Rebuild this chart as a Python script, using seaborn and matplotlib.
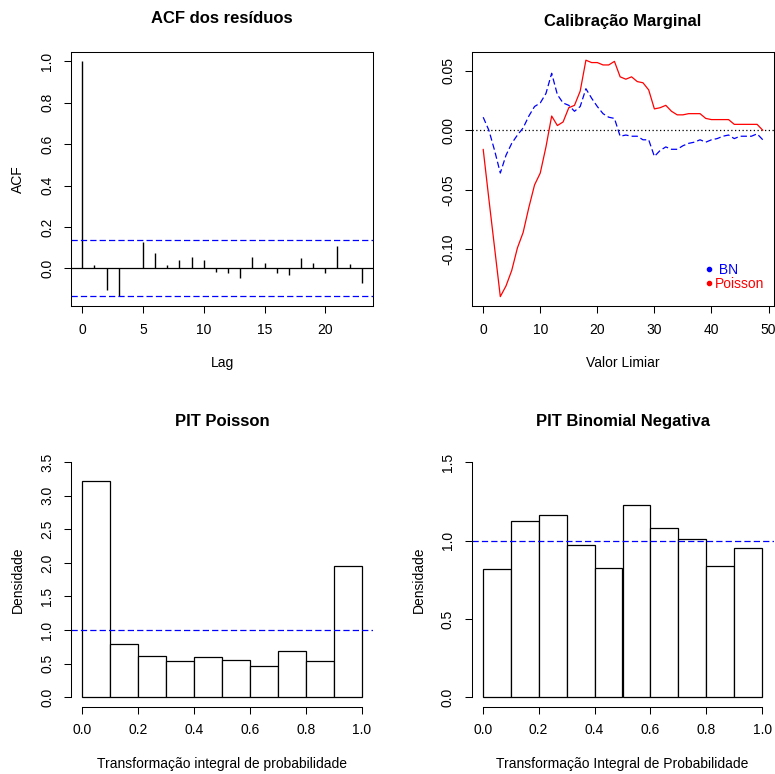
import numpy as np
import pandas as pd
import matplotlib
matplotlib.use('Agg')
import matplotlib.pyplot as plt
from matplotlib.lines import Line2D
import seaborn as sns

# ACF dos resíduos
lags = list(range(24))
acf_vals = [1.0, 0.016, -0.103, -0.132, 0.002, 0.129, 0.074, 0.016, 0.040, 0.055,
            0.040, -0.018, -0.022, -0.047, 0.055, 0.026, -0.022, -0.032, 0.050, 0.026,
            -0.022, 0.108, 0.021, -0.071]
acf_ci = 0.135

# Calibração marginal
thresholds = list(range(50))
calib_poisson = [-0.016, -0.058, -0.099, -0.140, -0.131, -0.118, -0.099, -0.086, -0.065, -0.046,
                 -0.036, -0.014, 0.012, 0.004, 0.007, 0.019, 0.021, 0.033, 0.059, 0.057,
                 0.057, 0.055, 0.055, 0.058, 0.045, 0.043, 0.045, 0.041, 0.040, 0.034,
                 0.018, 0.019, 0.021, 0.016, 0.013, 0.013, 0.014, 0.014, 0.014, 0.010,
                 0.009, 0.009, 0.009, 0.009, 0.005, 0.005, 0.005, 0.005, 0.005, 0.0]
calib_bn = [0.011, 0.000, -0.017, -0.036, -0.021, -0.011, -0.004, 0.002, 0.012, 0.020,
            0.023, 0.031, 0.048, 0.030, 0.023, 0.021, 0.016, 0.020, 0.035, 0.027,
            0.020, 0.014, 0.011, 0.010, -0.005, -0.004, -0.005, -0.005, -0.008, -0.008,
            -0.022, -0.017, -0.014, -0.016, -0.016, -0.013, -0.011, -0.010, -0.008, -0.010,
            -0.008, -0.007, -0.005, -0.004, -0.007, -0.005, -0.005, -0.005, -0.003, -0.008]

# PIT
pit_edges = [0.0, 0.1, 0.2, 0.3, 0.4, 0.5, 0.6, 0.7, 0.8, 0.9, 1.0]
pit_poisson = [3.22, 0.79, 0.62, 0.536, 0.606, 0.561, 0.472, 0.685, 0.536, 1.95]
pit_bn = [0.817, 1.126, 1.162, 0.970, 0.826, 1.228, 1.079, 1.009, 0.836, 0.951]

sns.set_style("white")
plt.rcParams['font.family'] = ['Liberation Sans', 'DejaVu Sans']
plt.rcParams.update({
    'axes.unicode_minus': False,
    'axes.edgecolor': 'black',
    'axes.linewidth': 0.75,
    'xtick.bottom': True, 'ytick.left': True,
    'xtick.direction': 'out', 'ytick.direction': 'out',
    'xtick.major.size': 5, 'ytick.major.size': 5,
    'xtick.major.width': 0.75, 'ytick.major.width': 0.75,
    'xtick.major.pad': 7, 'ytick.major.pad': 7,
    'xtick.color': 'black', 'ytick.color': 'black',
    'xtick.labelsize': 10, 'ytick.labelsize': 10,
    'axes.labelsize': 10, 'axes.labelcolor': 'black',
    'text.color': 'black',
})

W, H = 775, 774
fig = plt.figure(figsize=(W / 100, H / 100), dpi=100)


def add_panel(left, top, width=302, height=254):
    return fig.add_axes([left / W, 1 - (top + height) / H, width / W, height / H])


def style_axis(ax, title, xlabel, ylabel, yfmt, title_pad=19):
    ax.set_title(title, fontsize=12, fontweight='bold', pad=title_pad)
    ax.set_xlabel(xlabel, labelpad=14)
    ax.set_ylabel(ylabel, labelpad=11)
    ax.set_yticks(ax.get_yticks())
    ax.set_yticklabels([yfmt.format(v) for v in ax.get_yticks()], rotation=90, va='center')


dash = (0, (5, 2.5))

# ---- ACF ----
ax1 = add_panel(71, 52)
ax1.vlines(lags, 0, acf_vals, color='black', linewidth=1)
ax1.axhline(0, color='black', linewidth=0.9)
ax1.axhline(acf_ci, color='blue', linewidth=0.9, linestyle=dash)
ax1.axhline(-acf_ci, color='blue', linewidth=0.9, linestyle=dash)
ax1.set_xlim(-0.92, 23.92)
ax1.set_ylim(-0.1814, 1.0454)
ax1.set_xticks([0, 5, 10, 15, 20])
ax1.set_yticks(np.arange(0, 1.01, 0.2))
style_axis(ax1, 'ACF dos resíduos', 'Lag', 'ACF', '{:.1f}', title_pad=21)

# ---- Calibração Marginal ----
ax2 = add_panel(472, 52)
calib = pd.DataFrame({'limiar': thresholds, 'Poisson': calib_poisson, 'BN': calib_bn})
ax2.axhline(0, color='black', linewidth=0.9, linestyle=(0, (1, 2)))
sns.lineplot(data=calib, x='limiar', y='Poisson', ax=ax2, color='red', linewidth=0.9)
sns.lineplot(data=calib, x='limiar', y='BN', ax=ax2, color='blue', linewidth=0.9, linestyle=dash)
ax2.set_xlim(-1.96, 50.96)
ax2.set_ylim(-0.1479, 0.0659)
ax2.set_xticks([0, 10, 20, 30, 40, 50])
ax2.set_yticks([-0.10, -0.05, 0.0, 0.05])
style_axis(ax2, 'Calibração Marginal', 'Valor Limiar', '', '{:.2f}')
handles = [Line2D([], [], marker='o', color='blue', linestyle='', markersize=3),
           Line2D([], [], marker='o', color='red', linestyle='', markersize=3)]
ax2.legend(handles, [' BN', 'Poisson'], labelcolor=['blue', 'red'], frameon=False,
           loc='lower right', bbox_to_anchor=(1.0, 0.02), fontsize=10,
           handlelength=0.4, handletextpad=0.2, labelspacing=0.0, borderpad=0.2)

# ---- PIT panels ----
mids = [(a + b) / 2 for a, b in zip(pit_edges[:-1], pit_edges[1:])]
for left, dens, title, xlabel, ymax, ystep in [
        (71, pit_poisson, 'PIT Poisson', 'Transformação integral de probabilidade', 3.5, 0.5),
        (471.5, pit_bn, 'PIT Binomial Negativa', 'Transformação Integral de Probabilidade', 1.5, 0.5)]:
    ax = add_panel(left, 452.7)
    sns.histplot(x=mids, weights=dens, bins=pit_edges, ax=ax, color='white',
                 edgecolor='black', linewidth=0.9, alpha=1)
    ax.axhline(1, color='blue', linewidth=0.9, linestyle=dash)
    ax.set_xlim(-0.04, 1.04)
    ax.set_ylim(-0.04 * ymax, 1.04 * ymax)
    ax.set_xticks(np.arange(0, 1.01, 0.2))
    ax.set_xticklabels(['{:.1f}'.format(v) for v in np.arange(0, 1.01, 0.2)])
    ax.set_yticks(np.arange(0, ymax + 0.01, ystep))
    for s in ['top', 'right']:
        ax.spines[s].set_visible(False)
    ax.spines['bottom'].set_bounds(0, 1)
    ax.spines['left'].set_bounds(0, ymax)
    style_axis(ax, title, xlabel, 'Densidade', '{:.1f}', title_pad=19)

fig.savefig('out.png', dpi=100)
